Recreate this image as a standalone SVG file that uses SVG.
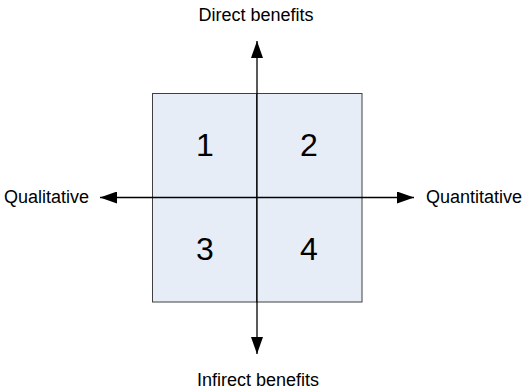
<svg xmlns="http://www.w3.org/2000/svg" width="525" height="389" viewBox="0 0 525 389">
  <style>
    .cell { fill: #E7EDF7; stroke: #404040; stroke-width: 1; }
    .num { font-family: "Liberation Sans", Arial, sans-serif; font-size: 32px; fill: #000; text-anchor: middle; }
    .label { font-family: "Liberation Sans", Arial, sans-serif; font-size: 18px; fill: #000; }
    .axis { stroke: #000; stroke-width: 1.3; fill: none; }
  </style>
  <defs>
    <marker id="arrow" viewBox="0 0 17 12" refX="17" refY="6" markerWidth="17" markerHeight="12" markerUnits="userSpaceOnUse" orient="auto">
      <path d="M0,0 L17,6 L0,12 Z" fill="#000"/>
    </marker>
  </defs>

  <!-- quadrant cells -->
  <g id="q1">
    <rect class="cell" x="152.5" y="93.5" width="104" height="104"/>
    <text class="num" x="205" y="155.5">1</text>
  </g>
  <g id="q2">
    <rect class="cell" x="256.5" y="93.5" width="105.5" height="104"/>
    <text class="num" x="309" y="155.5">2</text>
  </g>
  <g id="q3">
    <rect class="cell" x="152.5" y="197.5" width="104" height="104.5"/>
    <text class="num" x="205" y="259.5">3</text>
  </g>
  <g id="q4">
    <rect class="cell" x="256.5" y="197.5" width="105.5" height="104.5"/>
    <text class="num" x="309" y="259.5">4</text>
  </g>

  <!-- axes, drawn from the centre outwards -->
  <g id="connectors">
    <line class="axis" x1="257" y1="197.5" x2="257" y2="41" marker-end="url(#arrow)"/>
    <line class="axis" x1="257" y1="197.5" x2="257" y2="354" marker-end="url(#arrow)"/>
    <line class="axis" x1="257" y1="197.5" x2="100" y2="197.5" marker-end="url(#arrow)"/>
    <line class="axis" x1="257" y1="197.5" x2="414" y2="197.5" marker-end="url(#arrow)"/>
  </g>

  <!-- axis labels -->
  <g id="labels">
    <text class="label" x="256" y="20.5" text-anchor="middle">Direct benefits</text>
    <text class="label" x="258" y="385.5" text-anchor="middle">Infirect benefits</text>
    <text class="label" x="4" y="202.5">Qualitative</text>
    <text class="label" x="426" y="202.5">Quantitative</text>
  </g>
</svg>
